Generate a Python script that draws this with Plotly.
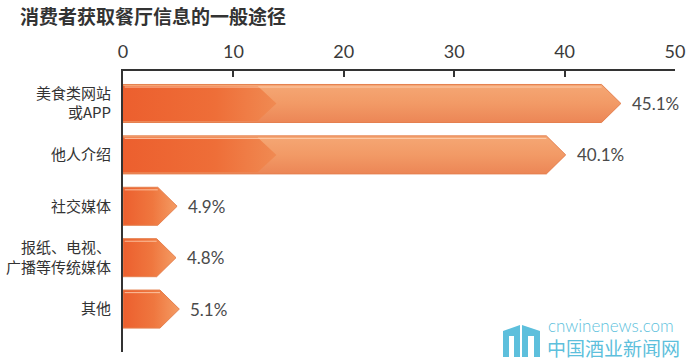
import plotly.graph_objects as go

# ---------------- data ----------------
categories = ["美食类网站<br>或APP", "他人介绍", "社交媒体", "报纸、电视、<br>广播等传统媒体", "其他"]
values = [45.1, 40.1, 4.9, 4.8, 5.1]
value_labels = ["45.1%", "40.1%", "4.9%", "4.8%", "5.1%"]
x_ticks = [0, 10, 20, 30, 40, 50]
title_text = "消费者获取餐厅信息的一般途径"

# ---------------- layout geometry ----------------
W, H = 700, 361
ML, MR, MT, MB = 123, 25, 71, 9
PW, PH = W - ML - MR, H - MT - MB
Y_RANGE = [4.835, -0.632]
HALF = 0.37          # half bar thickness (category units)
ARROW = 1.75         # arrow head length (value units)
CHEV_NOTCH, CHEV_TIP = 12.2, 13.9

CJK = "Noto Sans CJK SC"
NUM = "Lato, 'Noto Sans CJK SC'"

fig = go.Figure()

for i, v in enumerate(values):
    bx = [0, v - ARROW, v, v - ARROW, 0, 0]
    by = [i - HALF, i - HALF, i, i + HALF, i + HALF, i - HALF]
    long_bar = v > 15
    if long_bar:
        grad = dict(type="vertical", start=i - HALF, stop=i + HALF,
                    colorscale=[[0, "#f5a774"], [0.5, "#f29a66"], [1, "#ec8656"]])
    else:
        grad = dict(type="horizontal", start=0, stop=v,
                    colorscale=[[0, "#ec5f2e"], [0.55, "#ef773f"], [1, "#f49c64"]])
    fig.add_trace(go.Scatter(
        x=bx, y=by, mode="lines", fill="toself", fillgradient=grad,
        line=dict(color="#e5804f", width=1), hoverinfo="skip", showlegend=False))
    if long_bar:
        cx = [0, CHEV_NOTCH, CHEV_TIP, CHEV_NOTCH, 0, 0]
        cy = [i - HALF + 0.03, i - HALF + 0.03, i, i + HALF - 0.03, i + HALF - 0.03, i - HALF + 0.03]
        fig.add_trace(go.Scatter(
            x=cx, y=cy, mode="lines", fill="toself",
            fillgradient=dict(type="horizontal", start=0, stop=CHEV_TIP,
                              colorscale=[[0, "#ec5f2e"], [0.6, "#ee6e38"], [1, "#f08a52"]]),
            line=dict(width=0), hoverinfo="skip", showlegend=False))
    # top highlight line
    fig.add_trace(go.Scatter(
        x=[0.15, v - ARROW], y=[i - HALF + 0.05, i - HALF + 0.05], mode="lines",
        line=dict(color="rgba(255,214,185,0.8)", width=1), hoverinfo="skip", showlegend=False))
    fig.add_annotation(x=v, y=i, text=value_labels[i], showarrow=False,
                       xanchor="left", yanchor="middle", xshift=9,
                       font=dict(family=NUM, size=17, color="#4a4a4a"))

# watermark
def px(xp):
    return (xp - ML) / PW

def py(yp):
    return 1 - (yp - MT) / PH

fig.add_annotation(xref="paper", yref="paper", x=px(546), y=py(325), text="cnwinenews.com",
                   showarrow=False, xanchor="left", yanchor="middle",
                   font=dict(family="Lato, 'DejaVu Sans'", size=17, color="#5dbfdc", weight=300))
fig.add_annotation(xref="paper", yref="paper", x=px(545), y=py(347), text="中国酒业新闻网",
                   showarrow=False, xanchor="left", yanchor="middle",
                   font=dict(family=CJK, size=19, color="#5dbfdc"))
# simple logo
logo = ("M {a},{b} L {c},{d} L {c},{e} L {f},{e} L {f},{g} L {h},{g} L {h},{i} L {a},{i} Z").format(
    a=px(503), b=py(331), c=px(520), d=py(325), e=py(357), f=px(514), g=py(336), h=px(509), i=py(357))
fig.add_shape(type="path", xref="paper", yref="paper", path=logo,
              fillcolor="#5dbfdc", line=dict(width=0), layer="above")
logo2 = ("M {a},{b} L {c},{d} L {c},{e} L {f},{e} L {f},{g} L {h},{g} L {h},{i} L {a},{i} Z").format(
    a=px(522), b=py(325), c=px(540), d=py(331), e=py(357), f=px(534), g=py(336), h=px(528), i=py(357))
fig.add_shape(type="path", xref="paper", yref="paper", path=logo2,
              fillcolor="#5dbfdc", line=dict(width=0), layer="above")

fig.update_layout(
    width=W, height=H,
    margin=dict(l=ML, r=MR, t=MT, b=MB, pad=0, autoexpand=False),
    paper_bgcolor="white", plot_bgcolor="white",
    title=dict(text="<b>" + title_text + "</b>", x=20 / W, xanchor="left", xref="container",
               y=1 - 17 / H, yanchor="middle",
               font=dict(family=CJK, size=19, color="#333333")),
    xaxis=dict(side="top", range=[0, 50], tickvals=x_ticks, ticktext=[str(t) for t in x_ticks],
               ticks="inside", ticklen=6, tickwidth=1.5, tickcolor="#333333",
               showline=True, linecolor="#333333", linewidth=1.5, automargin=False,
               showgrid=False, zeroline=False, ticklabelstandoff=4,
               tickfont=dict(family=NUM, size=18, color="#3a3a3a")),
    yaxis=dict(range=Y_RANGE, tickvals=list(range(len(categories))), ticktext=categories,
               ticks="", showline=True, linecolor="#333333", linewidth=2, automargin=False,
               showgrid=False, zeroline=False, ticklabelstandoff=7,
               tickfont=dict(family=CJK, size=15, color="#333333")),
)

fig.write_html("out.html", config={"displayModeBar": False},
               post_script="document.body.style.margin='0';document.body.style.overflow='hidden';")
